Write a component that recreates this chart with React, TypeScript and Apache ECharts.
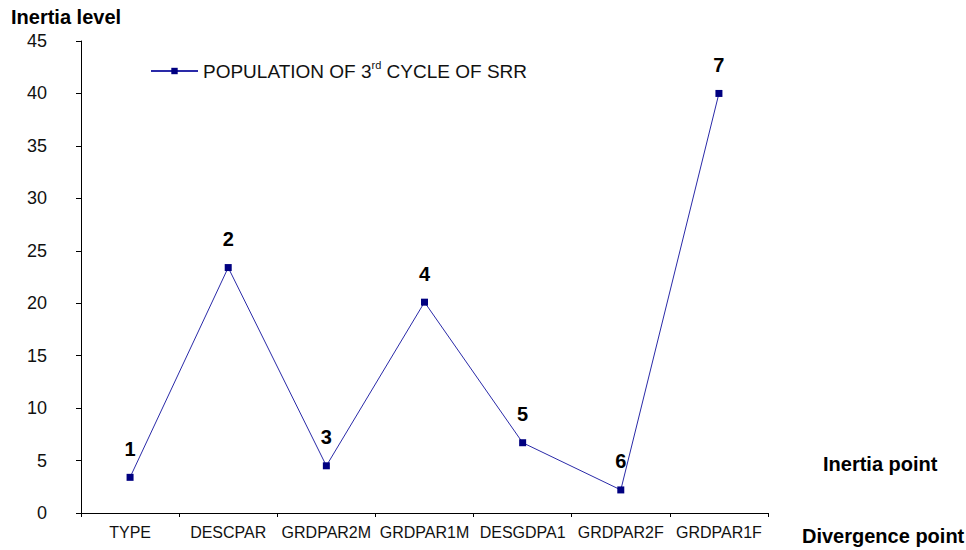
import React, { useEffect, useRef } from "react";
import * as echarts from "echarts";

const categories = ["TYPE", "DESCPAR", "GRDPAR2M", "GRDPAR1M", "DESGDPA1", "GRDPAR2F", "GRDPAR1F"];
const values = [3.4, 23.4, 4.5, 20.1, 6.7, 2.2, 40.0];
const pointLabels = ["1", "2", "3", "4", "5", "6", "7"];
const yTicks = { min: 0, max: 45, interval: 5 };

export default function App() {
  const ref = useRef<HTMLDivElement>(null);
  useEffect(() => {
    const chart = echarts.init(ref.current!, null, { renderer: "svg" });
    const font = "'Liberation Sans', Arial, sans-serif";
    const boldFont = "bold 20px 'Liberation Sans', Arial, sans-serif";
    chart.setOption({
      animation: false,
      textStyle: { fontFamily: font },
      grid: { left: 81, right: 198, top: 41, bottom: 37, containLabel: false },
      legend: {
        left: 145,
        top: 54,
        itemWidth: 47,
        itemHeight: 8,
        itemGap: 6,
        data: ["s"],
        formatter: () => "{a|POPULATION OF 3}{sup|rd}{a| CYCLE OF SRR}",
        textStyle: {
          rich: {
            a: { fontSize: 19, color: "#111", fontFamily: font, lineHeight: 24 },
            sup: { fontSize: 11, color: "#111", fontFamily: font, lineHeight: 24, verticalAlign: "top", padding: [0, 0, 10, 0] },
          },
        },
      },
      xAxis: {
        type: "category",
        data: categories,
        boundaryGap: true,
        axisLine: { lineStyle: { color: "#000", width: 1 } },
        axisTick: { show: true, length: 4, lineStyle: { color: "#000" } },
        axisLabel: { color: "#111", fontSize: 16, margin: 11, interval: 0, fontFamily: font },
        splitLine: { show: false },
      },
      yAxis: {
        type: "value",
        min: yTicks.min,
        max: yTicks.max,
        interval: yTicks.interval,
        axisLine: { show: true, lineStyle: { color: "#000", width: 1 } },
        axisTick: { show: true, length: 5, lineStyle: { color: "#000" } },
        axisLabel: { color: "#111", fontSize: 18, margin: 34, fontFamily: font },
        splitLine: { show: false },
      },
      series: [
        {
          name: "s",
          type: "line",
          data: values.map((v, i) => ({
            value: v,
            label: { formatter: pointLabels[i] },
          })),
          symbol: "rect",
          symbolSize: 7,
          lineStyle: { color: "#2a2aa8", width: 1 },
          itemStyle: { color: "#000080" },
          label: {
            show: true,
            position: "top",
            distance: 15,
            fontSize: 20,
            fontWeight: "bold",
            color: "#000",
            fontFamily: font,
          },
        },
      ],
      graphic: [
        { type: "text", left: 11, top: 7, style: { text: "Inertia level", fill: "#000", font: boldFont } },
        { type: "text", left: 823, top: 454, style: { text: "Inertia point", fill: "#000", font: boldFont } },
        { type: "text", left: 802, top: 526, style: { text: "Divergence point", fill: "#000", font: boldFont } },
      ],
    });
    return () => chart.dispose();
  }, []);
  return <div ref={ref} style={{ width: 966, height: 550, position: "absolute", left: 0, top: 0 }} />;
}
